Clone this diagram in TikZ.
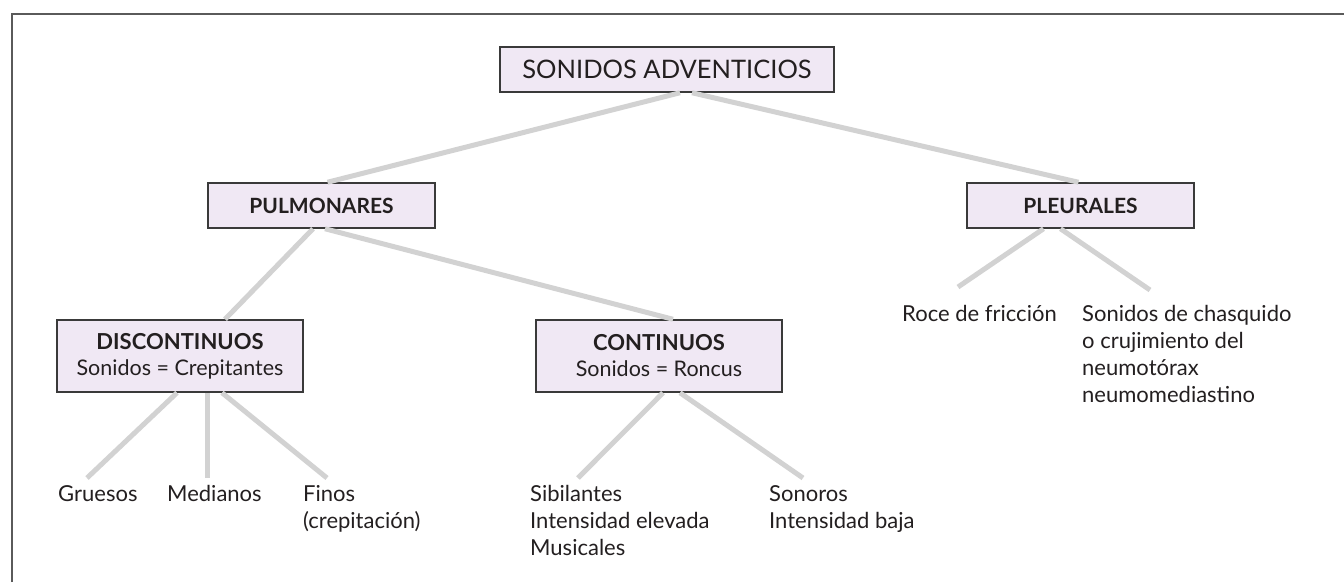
\documentclass[tikz,border=0pt]{standalone}
\usepackage{fontspec}
\setmainfont{Lato}
\usetikzlibrary{positioning}
\definecolor{box_lilac}{RGB}{240, 232, 244}
\definecolor{box_edge}{RGB}{58, 58, 58}
\definecolor{link_grey}{RGB}{210, 210, 210}
\definecolor{frame_grey}{RGB}{90, 90, 90}
\definecolor{ink}{RGB}{35, 31, 32}
\tikzstyle{head}=[rectangle,fill=box_lilac,draw=box_edge,text=ink,
  line width=1.5pt,inner sep=0pt,minimum width=334pt,minimum height=45pt,
  font=\fontsize{25.5}{30}\selectfont]
\tikzstyle{branch}=[rectangle,fill=box_lilac,draw=box_edge,text=ink,
  line width=1.5pt,inner sep=0pt,minimum width=227pt,minimum height=45pt,
  font=\fontsize{21}{26}\selectfont\bfseries]
\tikzstyle{kind}=[rectangle,fill=box_lilac,draw=box_edge,text=ink,
  line width=1.5pt,inner sep=0pt,minimum width=246pt,minimum height=72pt,
  align=center,font=\fontsize{21.5}{26}\selectfont]
\tikzstyle{leaf}=[anchor=north west,inner sep=0pt,align=left,text=ink,
  font=\fontsize{22}{27}\selectfont]
\tikzstyle{link}=[draw=link_grey,line width=5pt]
\tikzstyle{frame}=[draw=frame_grey,line width=2pt]

\begin{document}
\begin{tikzpicture}[x=1pt,y=-1pt]
        \useasboundingbox (0,0) rectangle (1344,582);
        \draw [style=frame] (12,582) -- (12,14) -- (1344,14);
        % boxes
        \node [style=head] (0) at (667,69.5) {SONIDOS ADVENTICIOS};
        \node [style=branch] (1) at (321.5,205.5) {PULMONARES};
        \node [style=branch] (2) at (1080.5,205.5) {PLEURALES};
        \node [style=kind] (3) at (180,356) {\textbf{\fontsize{22}{26}\selectfont DISCONTINUOS}\\Sonidos = Crepitantes};
        \node [style=kind] (4) at (659,356) {\textbf{\fontsize{22}{26}\selectfont CONTINUOS}\\Sonidos = Roncus};
        % leaves
        \node [style=leaf] (5) at (58,485) {Gruesos};
        \node [style=leaf] (6) at (167,485) {Medianos};
        \node [style=leaf] (7) at (303,485) {Finos\\(crepitación)};
        \node [style=leaf] (8) at (530,485) {Sibilantes\\Intensidad elevada\\Musicales};
        \node [style=leaf] (9) at (769,485) {Sonoros\\Intensidad baja};
        \node [style=leaf] (10) at (902,305) {Roce de fricción};
        \node [style=leaf] (11) at (1082,305) {Sonidos de chasquido\\o crujimiento del\\neumotórax\\neumomediastino};
        % free ends above the leaves
        \coordinate (15) at (87,478);
        \coordinate (16) at (207,478);
        \coordinate (17) at (327,478);
        \coordinate (18) at (578,478);
        \coordinate (19) at (803,478);
        \coordinate (20) at (958,287);
        \coordinate (21) at (1150,290);
        % links
        \draw [style=link] ([xshift=13pt]0.south) to ([xshift=6pt]1.north);
        \draw [style=link] ([xshift=25pt]0.south) to ([xshift=-2pt]2.north);
        \draw [style=link] ([xshift=-8.5pt]1.south) to ([xshift=45pt]3.north);
        \draw [style=link] ([xshift=3.5pt]1.south) to ([xshift=14pt]4.north);
        \draw [style=link] ([xshift=-37pt]2.south) to (20);
        \draw [style=link] ([xshift=-20pt]2.south) to (21);
        \draw [style=link] ([xshift=-3pt]3.south) to (15);
        \draw [style=link] ([xshift=27pt]3.south) to (16);
        \draw [style=link] ([xshift=42pt]3.south) to (17);
        \draw [style=link] ([xshift=4pt]4.south) to (18);
        \draw [style=link] ([xshift=21pt]4.south) to (19);
\end{tikzpicture}
\end{document}
